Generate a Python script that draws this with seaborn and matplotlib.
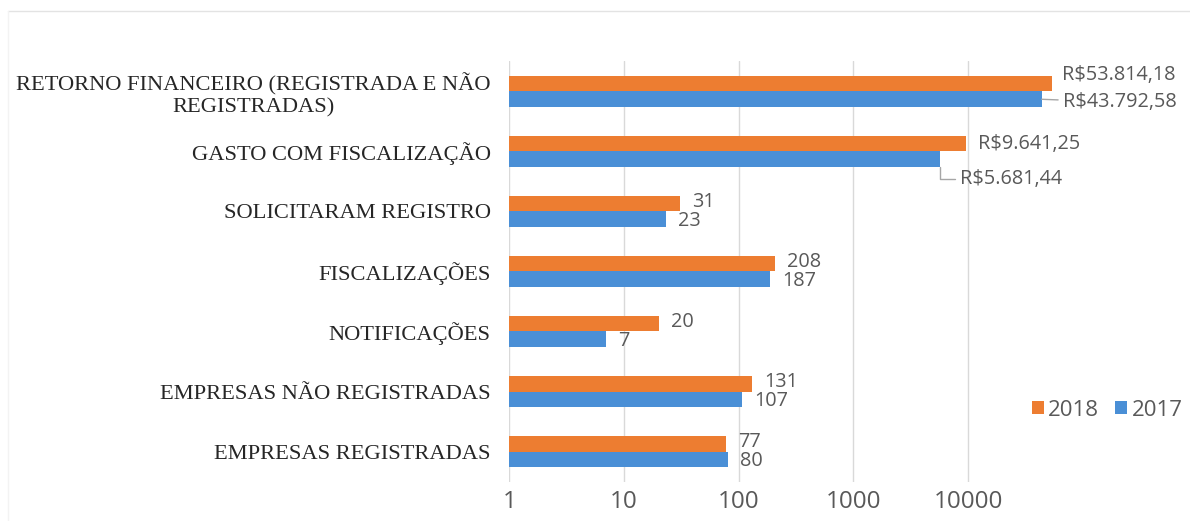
import matplotlib
matplotlib.use("Agg")
import matplotlib.pyplot as plt
from matplotlib.lines import Line2D
from matplotlib.patches import Patch
import seaborn as sns
import pandas as pd

categorias = [
    "RETORNO FINANCEIRO (REGISTRADA E NÃO\nREGISTRADAS)",
    "GASTO COM FISCALIZAÇÃO",
    "SOLICITARAM REGISTRO",
    "FISCALIZAÇÕES",
    "NOTIFICAÇÕES",
    "EMPRESAS NÃO REGISTRADAS",
    "EMPRESAS REGISTRADAS",
]
valores_2018 = [53814.18, 9641.25, 31, 208, 20, 131, 77]
valores_2017 = [43792.58, 5681.44, 23, 187, 7, 107, 80]
rotulos_2018 = ["R$53.814,18", "R$9.641,25", "31", "208", "20", "131", "77"]
rotulos_2017 = ["R$43.792,58", "R$5.681,44", "23", "187", "7", "107", "80"]
anos = ["2018", "2017"]
xticks = [1, 10, 100, 1000, 10000]

cor_2018 = "#ED7D31"
cor_2017 = "#4A8FD6"

df = pd.DataFrame({
    "Categoria": categorias * 2,
    "Valor": valores_2018 + valores_2017,
    "Ano": ["2018"] * len(categorias) + ["2017"] * len(categorias),
})

sns.set_theme(style="white")
plt.rcParams["font.family"] = ["Open Sans", "DejaVu Sans"]

fig = plt.figure(figsize=(11.9, 5.21), dpi=100)
ax = fig.add_axes([0.428, 0.0758, 0.482, 0.8062])
ax.set_xscale("log")

sns.barplot(data=df, y="Categoria", x="Valor", hue="Ano", hue_order=anos,
            palette={"2018": cor_2018, "2017": cor_2017}, orient="h",
            width=0.52, errorbar=None, linewidth=0, saturation=1,
            legend=False, ax=ax)

ax.set_xlim(1, 1e5)
ax.set_xticks(xticks)
ax.set_xticklabels([str(t) for t in xticks])
ax.minorticks_off()
ax.xaxis.grid(True, color="#d9d9d9", linewidth=1)
ax.set_axisbelow(True)
for s in ax.spines.values():
    s.set_visible(False)
ax.set_xlabel("")
ax.set_ylabel("")
ax.tick_params(axis="x", length=0, pad=6, labelsize=17.5, labelcolor="#595959")
ax.tick_params(axis="y", length=0, pad=13.5)
for lab in ax.get_yticklabels():
    lab.set_fontfamily("Liberation Serif")
    lab.set_fontsize(16.2)
    lab.set_color("#262626")
    lab.set_multialignment("center")

off = 0.52 / 4
lbl_kw = dict(textcoords="offset pixels", ha="left", va="center",
              fontsize=14.3, color="#595959")
leader = dict(arrowstyle="-", color="#a6a6a6", lw=1, shrinkA=1, shrinkB=0)

for i in range(len(categorias)):
    y18 = i - off
    y17 = i + off
    # 2018
    if i == 0:
        ax.annotate(rotulos_2018[i], (valores_2018[i], y18), xytext=(10, 9), **lbl_kw)
    elif i == 1:
        ax.annotate(rotulos_2018[i], (valores_2018[i], y18), xytext=(12, 0), **lbl_kw)
    else:
        ax.annotate(rotulos_2018[i], (valores_2018[i], y18), xytext=(12, 2), **lbl_kw)
    # 2017
    if i == 0:
        ax.annotate(rotulos_2017[i], (valores_2017[i], y17), xytext=(21, -3),
                    arrowprops=leader, **lbl_kw)
    elif i == 1:
        ax.annotate(rotulos_2017[i], (valores_2017[i], y17 + 0.13), xytext=(20, -12),
                    arrowprops=dict(leader, connectionstyle="angle,angleA=0,angleB=90,rad=0"),
                    **lbl_kw)
    else:
        ax.annotate(rotulos_2017[i], (valores_2017[i], y17), xytext=(12, -2), **lbl_kw)

handles = [Patch(facecolor=cor_2018, edgecolor="none", label="2018"),
           Patch(facecolor=cor_2017, edgecolor="none", label="2017")]
fig.legend(handles=handles, loc="center", bbox_to_anchor=(1107 / 1190, 1 - 410 / 521),
           ncol=2, frameon=False, fontsize=16, handlelength=0.55, handleheight=0.55,
           handletextpad=0.2, columnspacing=0.7, labelcolor="#595959")

# faint chart border
fig.add_artist(Line2D([8 / 1190, 1], [1 - 11 / 521, 1 - 11 / 521],
                      transform=fig.transFigure, color="#e3e3e3", lw=1))
fig.add_artist(Line2D([8 / 1190, 8 / 1190], [1 - 11 / 521, 0],
                      transform=fig.transFigure, color="#f3f3f3", lw=1))

fig.savefig("out.png", dpi=100)
